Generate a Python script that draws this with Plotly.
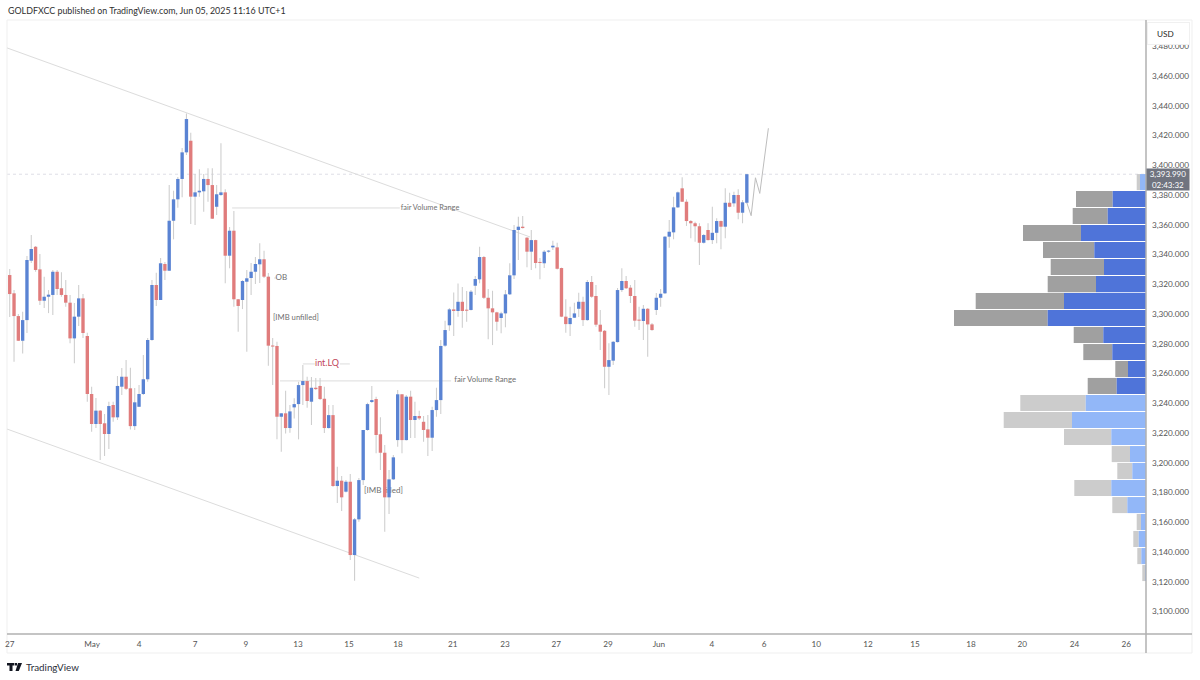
import plotly.graph_objects as go

# 4-hour XAUUSD candles, one entry per bar
opens = [3326.2,3313.9,3298.6,3282.0,3295.9,3335.8,3345.2,3330.0,3308.9,3311.6,3312.8,3328.4,3317.3,3312.8,3307.6,3283.6,3298.2,3310.5,3285.2,3246.2,
         3226.0,3235.0,3226.5,3219.3,3238.8,3230.5,3251.1,3257.8,3250.0,3224.6,3237.6,3246.2,3256.1,3282.5,3319.5,3309.4,3333.6,3329.1,3362.7,3377.1,
         3390.8,3408.7,3416.5,3378.9,3381.8,3382.5,3390.8,3386.7,3372.1,3380.0,3381.8,3339.2,3356.0,3309.9,3309.4,3321.7,3324.2,3328.4,3333.4,3336.8,
         3325.1,3278.5,3278.5,3230.9,3233.2,3223.3,3237.2,3239.4,3252.2,3254.9,3241.0,3250.4,3251.6,3243.0,3223.3,3232.0,3184.3,3187.9,3180.5,3187.2,
         3137.9,3161.9,3188.3,3222.0,3240.8,3242.8,3219.1,3206.7,3176.7,3188.8,3215.2,3246.0,3215.2,3244.4,3228.7,3231.4,3227.5,3222.4,3216.8,3235.4,
         3242.1,3278.7,3292.4,3303.1,3302.0,3308.2,3302.9,3302.7,3319.0,3323.3,3338.3,3310.9,3303.8,3301.1,3297.3,3300.4,3313.2,3326.0,3356.5,3358.7,
         3351.3,3341.9,3349.7,3334.9,3334.1,3341.9,3344.8,3344.8,3330.9,3298.2,3293.2,3297.5,3303.5,3308.2,3295.9,3321.5,3312.1,3292.8,3288.7,3264.5,
         3268.6,3281.1,3316.1,3322.2,3317.7,3312.1,3295.9,3295.3,3303.5,3293.0,3302.7,3310.9,3313.9,3352.0,3354.9,3371.7,3384.5,3375.5,3362.5,3361.0,
         3359.0,3347.9,3356.5,3349.7,3354.6,3362.5,3358.7,3374.8,3374.4,3380.0,3368.1,3374.8]
highs = [3330.2,3316.1,3300.0,3301.5,3339.0,3353.1,3345.7,3340.3,3325.1,3316.1,3329.6,3329.6,3328.0,3322.8,3312.8,3307.4,3319.5,3313.4,3287.4,3251.1,
         3243.5,3235.4,3232.7,3241.0,3241.0,3258.3,3263.7,3269.0,3263.9,3250.2,3252.2,3272.4,3283.8,3322.8,3327.7,3337.6,3334.9,3386.7,3382.9,3392.1,
         3411.6,3434.9,3421.9,3394.1,3397.3,3394.1,3398.0,3398.0,3386.7,3414.8,3383.8,3358.5,3369.2,3310.1,3322.8,3329.6,3334.3,3338.3,3347.5,3342.5,
         3327.5,3283.8,3281.3,3233.4,3248.4,3238.8,3243.3,3254.4,3265.7,3257.8,3257.6,3257.0,3257.0,3251.1,3238.8,3238.8,3197.3,3191.0,3188.3,3192.4,
         3162.8,3189.7,3222.0,3240.3,3251.6,3244.4,3230.5,3211.9,3195.1,3205.2,3248.9,3246.2,3245.5,3248.4,3241.0,3234.9,3231.4,3232.0,3237.6,3250.4,
         3282.5,3295.5,3304.0,3314.4,3320.5,3318.2,3315.4,3316.1,3325.5,3345.2,3339.0,3316.8,3315.6,3301.5,3301.5,3316.1,3334.1,3359.8,3365.4,3365.9,
         3351.8,3356.5,3350.0,3337.6,3343.0,3343.0,3349.3,3347.9,3331.2,3309.9,3304.9,3307.6,3314.3,3311.6,3322.8,3325.5,3319.5,3302.7,3289.2,3280.3,
         3281.8,3317.5,3330.7,3325.5,3319.5,3322.8,3304.9,3306.0,3304.0,3293.9,3314.1,3316.8,3352.4,3363.2,3378.9,3382.4,3391.9,3377.1,3363.2,3362.0,
         3361.0,3353.8,3361.0,3372.1,3364.3,3362.9,3384.5,3381.5,3382.2,3383.8,3376.6,3394.1]
lows = [3298.0,3267.9,3281.8,3273.5,3287.2,3334.3,3328.4,3306.0,3304.0,3300.6,3299.3,3312.8,3311.6,3304.9,3280.3,3266.8,3291.9,3283.8,3241.0,3220.8,
        3223.3,3201.8,3204.5,3209.2,3227.5,3228.7,3245.5,3248.9,3222.4,3222.0,3237.4,3245.5,3254.4,3282.0,3305.4,3309.4,3322.8,3328.9,3350.2,3371.5,
        3378.5,3406.9,3360.5,3359.8,3378.9,3368.8,3375.5,3363.9,3366.6,3379.3,3320.6,3330.7,3304.9,3288.1,3303.3,3274.6,3312.8,3320.1,3320.8,3324.2,
        3265.2,3252.2,3215.7,3207.4,3219.7,3220.1,3229.8,3215.7,3238.8,3237.0,3225.3,3248.9,3242.1,3220.0,3223.0,3183.8,3172.9,3167.5,3180.0,3134.5,
        3120.6,3160.3,3185.0,3221.5,3240.1,3206.3,3195.1,3153.6,3165.5,3188.3,3210.7,3206.3,3214.9,3216.6,3216.6,3228.7,3214.1,3204.5,3207.8,3230.9,
        3232.7,3278.0,3288.7,3285.2,3298.2,3290.8,3294.8,3302.4,3312.8,3320.6,3310.1,3283.0,3279.1,3288.7,3287.0,3291.0,3312.8,3323.5,3336.3,3357.5,
        3331.4,3329.6,3330.7,3323.3,3330.9,3341.2,3343.0,3329.9,3297.9,3287.4,3285.2,3297.3,3297.9,3291.9,3295.5,3310.9,3291.4,3275.8,3250.0,3245.5,
        3265.7,3280.8,3314.8,3316.8,3307.4,3291.4,3289.2,3282.5,3271.3,3288.7,3299.3,3304.9,3313.4,3344.6,3350.2,3371.3,3375.3,3359.2,3350.9,3348.6,
        3332.9,3347.4,3349.4,3347.0,3347.5,3343.5,3350.9,3371.8,3372.1,3363.7,3361.0,3374.3]
closes = [3313.4,3298.6,3282.0,3295.9,3336.3,3343.7,3329.6,3308.9,3311.6,3313.0,3328.4,3316.8,3312.8,3307.6,3283.6,3298.2,3310.5,3287.2,3246.2,3226.0,
          3235.0,3226.0,3219.3,3238.1,3230.5,3251.6,3257.8,3249.7,3224.6,3240.6,3246.2,3256.1,3282.5,3319.5,3309.4,3334.1,3329.1,3362.7,3377.1,3390.8,
          3408.7,3431.1,3378.9,3381.8,3382.9,3390.8,3386.7,3364.1,3380.5,3381.8,3339.2,3356.0,3309.9,3305.4,3322.2,3324.0,3328.4,3333.6,3336.8,3325.1,
          3278.7,3278.1,3230.9,3233.2,3223.3,3234.5,3239.4,3252.2,3254.9,3241.5,3250.4,3249.5,3242.8,3223.3,3232.0,3184.3,3187.9,3176.7,3187.2,3137.9,
          3161.9,3188.3,3222.0,3239.4,3242.1,3218.6,3206.7,3176.7,3188.8,3203.6,3246.0,3215.2,3244.4,3228.7,3231.4,3229.8,3222.0,3216.8,3235.4,3242.1,
          3278.5,3289.2,3303.1,3302.0,3308.2,3302.0,3302.2,3315.0,3323.5,3338.3,3310.9,3303.8,3301.1,3294.8,3300.4,3313.2,3326.0,3356.5,3358.7,3357.8,
          3341.9,3349.7,3334.3,3334.3,3341.9,3342.5,3345.9,3330.4,3298.2,3293.2,3297.3,3300.4,3308.2,3295.9,3321.5,3311.6,3292.8,3288.1,3264.5,3269.0,
          3281.3,3316.1,3322.2,3317.3,3312.1,3295.5,3295.5,3303.5,3293.0,3289.2,3310.9,3313.6,3352.0,3355.3,3371.7,3381.8,3375.5,3362.5,3361.0,3359.0,
          3347.9,3353.1,3349.7,3354.6,3362.5,3358.7,3374.8,3372.1,3380.0,3368.1,3375.1,3393.99]

# Projected path after the last bar
path_bars = [171, 172, 173, 174, 176]
path_prices = [3374.8, 3366.1, 3391.6, 3381.1, 3424.9]

# Channel boundaries and range markers
upper_channel_bars = [-0.6, 120.7]
upper_channel_prices = [3478.9, 3351.8]
lower_channel_bars = [-0.6, 95.0]
lower_channel_prices = [3222.6, 3122.4]
range_lines = [
    ([51.6, 90.5], [3371.3, 3371.3]),
    ([62.7, 102.4], [3255.0, 3255.0]),
    ([68.0, 70.8], [3266.4, 3266.4]),
    ([76.6, 78.9], [3266.4, 3266.4]),
    ([61.3, 62.0], [3324.2, 3324.2]),
]

note_labels = ["fair Volume Range", "fair Volume Range", "int.LQ", "OB", "[IMB unfilled]", "[IMB filled]"]
note_bars = [97.5, 110.3, 73.6, 63.0, 66.4, 86.7]
note_prices = [3371.3, 3255.3, 3266.4, 3324.2, 3297.3, 3181.0]
note_colors = ["#6f6f6f", "#6f6f6f", "#c2455a", "#6f6f6f", "#6f6f6f", "#6f6f6f"]
note_sizes = [7.4, 7.8, 9, 8, 7.7, 8]

# Volume profile rows: level, total volume, up volume
vp_levels = [3388.7,3377.3,3365.9,3354.4,3343.0,3331.6,3320.1,3308.7,3297.3,3285.9,3274.4,3263.0,3251.6,
             3240.1,3228.7,3217.3,3205.8,3194.4,3183.0,3171.5,3160.1,3148.7,3137.2,3125.8]
vp_total = [9.3,70.0,73.3,123.0,103.0,95.3,98.3,170.3,192.0,72.3,62.7,30.7,58.3,
            125.7,142.3,82.0,34.3,28.7,71.7,33.7,9.3,12.7,8.7,3.7]
vp_up = [6.0,33.3,38.3,65.0,51.7,42.0,50.0,82.0,98.3,42.7,33.7,18.0,29.3,
         60.3,74.0,34.7,16.0,13.7,34.7,18.7,5.0,7.3,4.7,0.7]
vp_value_area = [False] + [True] * 12 + [False] * 11

last_price = 3393.99
price_ticks = list(range(3100, 3500, 20))
date_labels = ["27", "May", "4", "7", "9", "13", "15", "18", "21", "23", "27", "29", "Jun", "4", "6", "10", "12", "15", "18", "20", "24", "26"]
date_bars = [0.0, 19.1, 30.0, 43.0, 54.8, 66.9, 78.7, 90.1, 102.8, 114.9, 126.8, 138.8, 150.6, 162.9, 175.0, 187.1, 199.1, 210.0, 223.0, 234.9, 247.0, 259.0]

# Slightly translucent candle fills keep the edges anti-aliased
BLUE, RED, WICK = "rgba(88,130,210,0.99)", "rgba(224,122,122,0.99)", "rgba(205,205,205,0.99)"
UP_DARK, REST_DARK = "#4f74d9", "#a0a0a0"
UP_LIGHT, REST_LIGHT = "#92b7f8", "#cccccc"
FONT = "Lato"

X0, X1, Y0, Y1 = 7, 1146, 20, 634


def px(x):
    return (x - X0) / (X1 - X0)


def py(y):
    return 1 - (y - Y0) / (Y1 - Y0)


bars = list(range(len(opens)))
x_range = [-0.63, 263.6]
y_range = [3084.8, 3497.7]

fig = go.Figure()

# Lowest layer: notes and guide lines, so candles pass over them
for line_x, line_y in [(upper_channel_bars, upper_channel_prices), (lower_channel_bars, lower_channel_prices)] + range_lines:
    fig.add_trace(go.Scatter(x=line_x, y=line_y, mode="lines", line=dict(color="#dcdcdc", width=1), hoverinfo="skip"))
fig.add_trace(go.Scatter(x=path_bars, y=path_prices, mode="lines", line=dict(color="#bdbdbd", width=1), hoverinfo="skip"))
fig.add_trace(go.Scatter(x=note_bars, y=note_prices, mode="text", text=note_labels,
                         textposition="middle center",
                         textfont=dict(family=FONT, size=note_sizes, color=note_colors), hoverinfo="skip"))

# Candles: wick first, then body, on an overlay x axis
fig.add_trace(go.Bar(x=bars, base=lows, y=[h - l for h, l in zip(highs, lows)], width=0.25,
                     marker=dict(color=WICK, line_width=0), xaxis="x2", hoverinfo="skip"))
fig.add_trace(go.Bar(x=bars, base=[min(o, c) for o, c in zip(opens, closes)],
                     y=[max(abs(c - o), 0.7) for o, c in zip(opens, closes)], width=0.78,
                     marker=dict(color=[BLUE if c >= o else RED for o, c in zip(opens, closes)], line_width=0),
                     xaxis="x2", customdata=list(zip(opens, highs, lows, closes)),
                     hovertemplate="O %{customdata[0]} H %{customdata[1]} L %{customdata[2]} C %{customdata[3]}<extra></extra>"))

# Volume profile measured from the right edge
fig.add_trace(go.Bar(y=vp_levels, x=[t - u for t, u in zip(vp_total, vp_up)], base=vp_up, orientation="h", width=10.8,
                     marker=dict(color=[REST_DARK if v else REST_LIGHT for v in vp_value_area], line_width=0),
                     xaxis="x3", hoverinfo="skip"))
fig.add_trace(go.Bar(y=vp_levels, x=vp_up, orientation="h", width=10.8,
                     marker=dict(color=[UP_DARK if v else UP_LIGHT for v in vp_value_area], line_width=0),
                     xaxis="x3", hoverinfo="skip"))

shapes = [
    # last-price line
    dict(type="line", xref="paper", yref="y", x0=0, x1=1, y0=last_price, y1=last_price,
         line=dict(color="#dedee6", width=1, dash="dot"), layer="below"),
    # outer frame
    dict(type="rect", xref="paper", yref="paper", x0=0, x1=px(1192), y0=py(653), y1=py(20),
         line=dict(color="#efefef", width=1), layer="below"),
    # axis rules
    dict(type="line", xref="paper", yref="paper", x0=0, x1=px(1192), y0=py(634), y1=py(634), line=dict(color="#b0b0b0", width=1.5)),
    dict(type="line", xref="paper", yref="paper", x0=px(1146), x1=px(1146), y0=py(20), y1=py(653), line=dict(color="#b0b0b0", width=1.5)),
]


# TradingView mark: a T bar and stem, a dot and a V
def logo_path(points):
    return "M" + " L".join(f"{px(a):.5f},{py(b):.5f}" for a, b in points) + " Z"


for pts in ([(7, 663), (14, 663), (14, 665.5), (12.5, 665.5), (12.5, 671), (9.5, 671), (9.5, 665.5), (7, 665.5)],
            [(14.6, 663), (17, 663), (17, 665.5), (14.6, 665.5)],
            [(18, 663), (22, 663), (18.8, 671), (15.5, 671)]):
    shapes.append(dict(type="path", xref="paper", yref="paper", path=logo_path(pts), fillcolor="#131722", line_width=0))

annotations = [
    dict(x=px(6), y=py(11), xref="paper", yref="paper", xanchor="left", yanchor="middle", showarrow=False,
         text="GOLDFXCC published on TradingView.com, Jun 05, 2025 11:16 UTC+1",
         font=dict(family=FONT, size=8.9, color="#2f2f2f")),
    dict(x=px(24), y=py(667), xref="paper", yref="paper", xanchor="left", yanchor="middle", showarrow=False,
         text="TradingView", font=dict(family=FONT, size=9.8, color="#2a2e39")),
    dict(x=px(1168.5), y=py(33.5), xref="paper", yref="paper", xanchor="center", yanchor="middle", showarrow=False,
         text="USD&nbsp;&nbsp;&nbsp;", width=41, height=21, bgcolor="#ffffff", bordercolor="#f0f0f0", borderwidth=1, borderpad=0,
         font=dict(family=FONT, size=8.2, color="#1f1f1f")),
    dict(x=px(1168), y=py(179), xref="paper", yref="paper", xanchor="center", yanchor="middle", showarrow=False,
         text=f"{last_price:,.3f}<br>02:43:32", width=42, height=21, bgcolor="#70747f", borderpad=0, align="center",
         font=dict(family=FONT, size=8, color="#ffffff")),
]

fig.update_layout(
    width=1200, height=680, autosize=False, margin=dict(l=X0, r=1200 - X1, t=Y0, b=680 - Y1, autoexpand=False),
    paper_bgcolor="#ffffff", plot_bgcolor="#ffffff", showlegend=False, barmode="overlay",
    shapes=shapes, annotations=annotations,
    xaxis=dict(range=x_range, tickmode="array", tickvals=date_bars, ticktext=date_labels, showgrid=False, zeroline=False,
               ticks="", tickangle=0, ticklabelstandoff=4, tickfont=dict(family=FONT, size=8.2, color="#555555")),
    xaxis2=dict(range=x_range, overlaying="x", visible=False),
    xaxis3=dict(range=[X1 - X0, 0], overlaying="x", visible=False),
    yaxis=dict(range=y_range, side="right", tickmode="array", tickvals=price_ticks,
               ticktext=[f"{v:,.3f}" for v in price_ticks], showgrid=False, zeroline=False, ticks="",
               ticklabelstandoff=5, tickfont=dict(family=FONT, size=8.2, color="#555555")),
)

fig.write_html("out.html", config=dict(displayModeBar=False))
